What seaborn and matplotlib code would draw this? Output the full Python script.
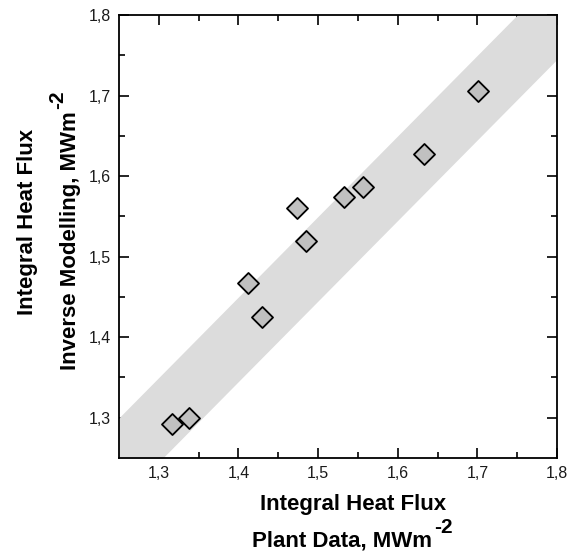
import matplotlib
matplotlib.use("Agg")
import matplotlib.pyplot as plt
import seaborn as sns
import pandas as pd

# Data
plant_data = [1.316, 1.338, 1.412, 1.429, 1.474, 1.485, 1.532, 1.556, 1.633, 1.701]
inverse_model = [1.292, 1.300, 1.467, 1.425, 1.560, 1.520, 1.574, 1.587, 1.627, 1.706]
band_x = [1.25, 1.80]
band_lower = [1.195, 1.745]
band_upper = [1.300, 1.850]
tick_values = [1.3, 1.4, 1.5, 1.6, 1.7, 1.8]
tick_labels = ["1,3", "1,4", "1,5", "1,6", "1,7", "1,8"]
minor_ticks = [1.35, 1.45, 1.55, 1.65, 1.75]

sns.set_theme(style="white")
plt.rcParams['font.family'] = ['Liberation Sans', 'DejaVu Sans']

W, H = 569, 559
fig = plt.figure(figsize=(W / 100, H / 100), dpi=100)
ax = fig.add_axes([119 / W, 1 - 458 / H, (557 - 119) / W, (458 - 15) / H])

ax.fill_between(band_x, band_lower, band_upper, color="#dcdcdc", linewidth=0, zorder=1)

df = pd.DataFrame({"plant": plant_data, "inverse": inverse_model})
sns.scatterplot(data=df, x="plant", y="inverse", marker="D", s=115,
                color="#c0c0c0", edgecolor="black", linewidth=1.3, ax=ax, zorder=3)

ax.set_xlim(1.25, 1.8)
ax.set_ylim(1.25, 1.8)
ax.set_xticks(tick_values)
ax.set_xticklabels(tick_labels)
ax.set_yticks(tick_values)
ax.set_yticklabels(tick_labels)
ax.set_xticks(minor_ticks, minor=True)
ax.set_yticks(minor_ticks, minor=True)
ax.tick_params(which="both", direction="in", top=True, right=True, bottom=True, left=True,
               color="black", width=1.2)
ax.tick_params(which="major", length=7, labelsize=11.5, pad=6, labelcolor="#1a1a1a")
ax.tick_params(which="minor", length=4.5)
for s in ax.spines.values():
    s.set_color("black")
    s.set_linewidth(1.3)
ax.set_xlabel("")
ax.set_ylabel("")

fs = 16
sup_fs = 15
fig.text(353 / W, 1 - 510 / H, "Integral Heat Flux", ha="center", va="baseline",
         fontsize=fs, fontweight="bold", color="black")
fig.text(33 / W, 1 - 222 / H, "Integral Heat Flux", ha="center", va="baseline",
         rotation=90, rotation_mode="anchor", fontsize=fs, fontweight="bold", color="black")

t1 = fig.text(252 / W, 1 - 546 / H, "Plant Data, MWm", ha="left", va="baseline",
              fontsize=fs, fontweight="bold", color="black")
t2 = fig.text(76 / W, 1 - 370 / H, "Inverse Modelling, MWm", ha="left", va="baseline",
              rotation=90, rotation_mode="anchor", fontsize=fs, fontweight="bold", color="black")

fig.canvas.draw()
r = fig.canvas.get_renderer()
b1 = t1.get_window_extent(r)
fig.text((b1.x1 + 2) / W, (H - 546 + 13) / H, "-2", ha="left", va="baseline",
         fontsize=sup_fs, fontweight="bold", color="black")
b2 = t2.get_window_extent(r)
fig.text((76 - 13) / W, (b2.y1 + 2) / H, "-2", ha="left", va="baseline",
         rotation=90, rotation_mode="anchor", fontsize=sup_fs, fontweight="bold", color="black")

fig.savefig("out.png", dpi=100)
